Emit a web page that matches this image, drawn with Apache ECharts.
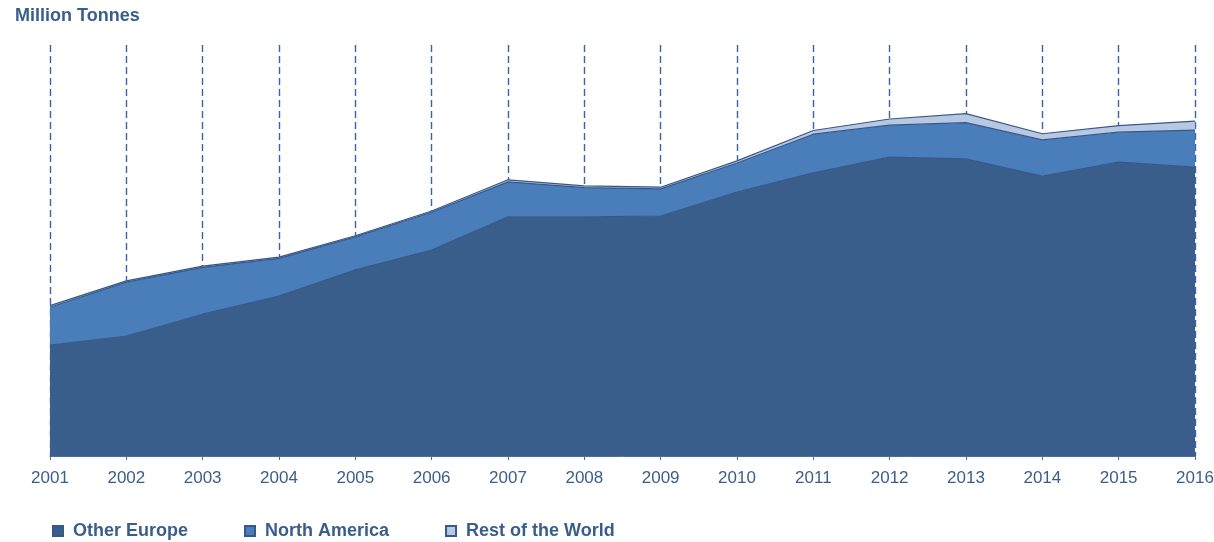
<!DOCTYPE html>
<html>
<head>
<meta charset="utf-8">
<script src="https://cdn.jsdelivr.net/npm/echarts@6/dist/echarts.min.js"></script>
<style>
  html, body { margin: 0; padding: 0; background: #fff; }
  #main { width: 1214px; height: 542px; }
</style>
</head>
<body>
<div id="main"></div>
<script>
var years = ['2001', '2002', '2003', '2004', '2005', '2006', '2007', '2008',
    '2009', '2010', '2011', '2012', '2013', '2014', '2015', '2016'];
var otherEurope = [27.0, 29.2, 34.5, 38.9, 45.3, 50.1, 58.2, 58.2, 58.4, 64.2, 68.9, 72.7, 72.3, 68.1, 71.5, 70.3];
var northAmerica = [9.2, 13.1, 11.4, 9.2, 8.0, 9.2, 8.5, 7.1, 6.6, 7.1, 9.4, 7.8, 8.8, 8.8, 7.3, 9.0];
var restOfWorld = [0.4, 0.3, 0.3, 0.3, 0.3, 0.3, 0.5, 0.4, 0.4, 0.5, 0.9, 1.5, 2.2, 1.5, 1.6, 2.2];

var textColor = '#3a5e8c';
var edgeColor = '#36598a';
var font = 'Liberation Sans, Arial, sans-serif';

var myChart = echarts.init(document.getElementById('main'));

function areaSeries(name, data, fill) {
    return {
        name: name,
        type: 'line',
        stack: 'total',
        data: data,
        symbol: 'none',
        lineStyle: { color: edgeColor, width: 1.2 },
        areaStyle: { color: fill, opacity: 1 },
        itemStyle: { color: fill, borderColor: edgeColor, borderWidth: 1 }
    };
}

var option = {
    animation: false,
    title: {
        text: 'Million Tonnes',
        left: 10,
        top: 2,
        textStyle: {
            fontFamily: font,
            fontSize: 18,
            fontWeight: 'bold',
            color: textColor
        }
    },
    legend: {
        top: 517,
        left: 47,
        icon: 'rect',
        itemWidth: 10,
        itemHeight: 10,
        itemGap: 56,
        textStyle: {
            fontFamily: font,
            fontSize: 18,
            fontWeight: 'bold',
            color: textColor,
            padding: [0, 0, 0, 5]
        },
        data: ['Other Europe', 'North America', 'Rest of the World']
    },
    grid: {
        left: 50,
        right: 19,
        top: 45,
        bottom: 86,
        outerBoundsMode: 'none'
    },
    xAxis: {
        type: 'category',
        boundaryGap: false,
        data: years,
        axisLine: { show: true, lineStyle: { color: '#4a6f9e', width: 1 } },
        axisTick: { show: true, length: 4, lineStyle: { color: '#4a6f9e' } },
        axisLabel: {
            color: textColor,
            fontFamily: font,
            fontSize: 17,
            margin: 14
        },
        splitLine: {
            show: true,
            lineStyle: { color: '#3b65a0', type: [7, 4], width: 1.4 }
        }
    },
    yAxis: {
        type: 'value',
        min: 0,
        max: 100,
        show: false,
        splitLine: { show: false }
    },
    series: [
        areaSeries('Other Europe', otherEurope, '#3a5e8c'),
        areaSeries('North America', northAmerica, '#4a7ebb'),
        areaSeries('Rest of the World', restOfWorld, '#b9c8e2')
    ]
};

myChart.setOption(option);
</script>
</body>
</html>
